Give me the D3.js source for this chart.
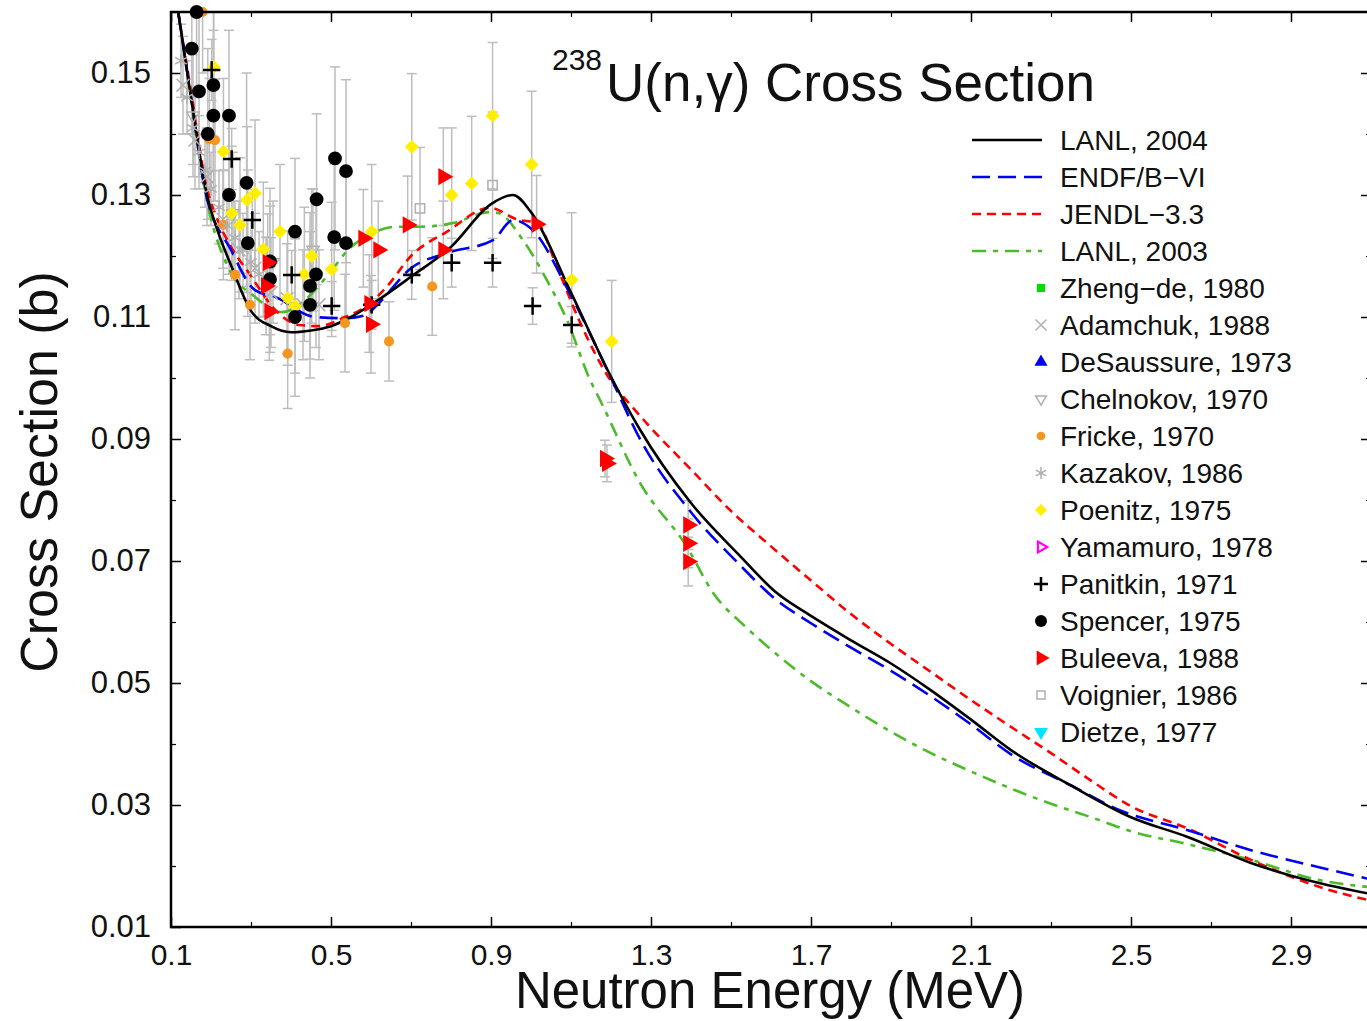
<!DOCTYPE html>
<html>
<head>
<meta charset="utf-8">
<script src="https://cdn.jsdelivr.net/npm/d3@7"></script>
<style>
body { margin: 0; background: #fff; }
svg { display: block; font-family: "Liberation Sans", Arial, Helvetica, sans-serif; }
</style>
</head>
<body>
<script>
var width = 1367, height = 1021;
var plot = {left: 171, top: 12, right: 1371, bottom: 927};

// ticks
var xMajor = [0.1, 0.5, 0.9, 1.3, 1.7, 2.1, 2.5, 2.9];
var xMinor = [0.3, 0.7, 1.1, 1.5, 1.9, 2.3, 2.7, 3.1];
var yMajor = [0.01, 0.03, 0.05, 0.07, 0.09, 0.11, 0.13, 0.15];
var yMinor = [0.02, 0.04, 0.06, 0.08, 0.10, 0.12, 0.14, 0.16];

// evaluations [E (MeV), sigma (b)]
var lanl2004 = [[0.118,0.160],[0.15,0.146],[0.19,0.130],[0.22,0.1235],[0.25,0.1185],[0.30,0.1110],[0.35,0.1085],
  [0.40,0.1075],[0.45,0.1078],[0.50,0.1085],[0.55,0.1100],[0.60,0.1120],[0.70,0.1166],[0.80,0.1215],[0.90,0.1285],
  [0.955,0.1300],[1.00,0.1272],[1.10,0.1140],[1.20,0.1002],[1.27,0.0918],[1.40,0.0795],[1.52,0.0710],[1.61,0.0650],
  [1.70,0.0610],[1.80,0.0570],[1.90,0.0532],[2.00,0.0488],[2.10,0.0440],[2.20,0.0390],[2.35,0.0332],[2.50,0.0280],
  [2.64,0.0248],[2.80,0.0205],[2.97,0.0172],[3.10,0.0154]];
var endfb6 = [[0.118,0.160],[0.15,0.146],[0.185,0.1308],[0.25,0.1210],[0.31,0.1144],[0.36,0.1133],[0.46,0.1100],
  [0.535,0.1098],[0.585,0.1103],[0.62,0.1123],[0.70,0.1180],[0.79,0.1205],[0.905,0.1226],[0.955,0.1259],[1.00,0.1245],
  [1.10,0.1135],[1.20,0.1000],[1.27,0.0903],[1.40,0.0780],[1.52,0.0695],[1.61,0.0638],[1.70,0.0598],[1.80,0.0558],
  [1.90,0.0520],[2.00,0.0478],[2.10,0.0432],[2.20,0.0383],[2.35,0.0332],[2.47,0.0292],[2.64,0.0259],[2.80,0.0226],
  [2.97,0.0198],[3.10,0.0178]];
var jendl33 = [[0.118,0.160],[0.15,0.147],[0.19,0.131],[0.21,0.127],[0.25,0.1215],[0.295,0.1172],[0.36,0.1112],
  [0.42,0.1087],[0.47,0.1085],[0.535,0.1100],[0.585,0.1116],[0.64,0.1150],[0.70,0.1200],[0.79,0.1240],[0.8975,0.1279],
  [0.965,0.1260],[1.015,0.1254],[1.065,0.1182],[1.12,0.1095],[1.20,0.0995],[1.25,0.0955],[1.30,0.0918],[1.40,0.0850],
  [1.50,0.0782],[1.60,0.0724],[1.70,0.0668],[1.80,0.0613],[1.90,0.0564],[2.00,0.0518],[2.10,0.0472],[2.20,0.0428],
  [2.30,0.0385],[2.40,0.0340],[2.50,0.0298],[2.64,0.0262],[2.80,0.0210],[2.97,0.0166],[3.10,0.0143]];
var lanl2003 = [[0.118,0.160],[0.15,0.1455],[0.19,0.129],[0.2425,0.1182],[0.31,0.1133],[0.3775,0.1108],[0.435,0.1128],
  [0.5025,0.1177],[0.5425,0.1210],[0.585,0.1231],[0.6675,0.1248],[0.7225,0.1248],[0.805,0.1254],[0.8975,0.1272],
  [0.92,0.1270],[0.98,0.1226],[1.04,0.1160],[1.09,0.1095],[1.1475,0.0997],[1.1725,0.0964],[1.2725,0.0828],
  [1.39,0.0723],[1.455,0.0648],[1.54,0.0590],[1.60,0.0555],[1.70,0.0503],[1.80,0.0460],[1.90,0.0420],[2.00,0.0385],
  [2.10,0.0355],[2.20,0.0327],[2.30,0.0302],[2.40,0.0280],[2.50,0.0257],[2.64,0.0236],[2.80,0.0210],[2.97,0.0177],
  [3.10,0.0165]];

// experiments [E, sigma, error]
var adamchuk = [[0.13,0.148,0.008],[0.16,0.139,0.008],[0.19,0.133,0.008],[0.23,0.126,0.008],[0.27,0.121,0.008],
  [0.31,0.118,0.009],[0.35,0.114,0.009],[0.39,0.113,0.009],[0.43,0.112,0.009],[0.47,0.112,0.009]];
var chelnokov = [[0.155,0.143,0.010],[0.255,0.127,0.010],[0.355,0.119,0.010],[0.455,0.121,0.010]];
var fricke = [[0.179,0.160,0.010],[0.196,0.1391,0.010],[0.21,0.139,0.010],[0.2308,0.1251,0.009],[0.26,0.1169,0.009],
  [0.2975,0.112,0.009],[0.3917,0.104,0.009],[0.535,0.109,0.008],[0.645,0.106,0.0065],[0.753,0.115,0.008]];
var kazakov = [[0.125,0.152,0.006],[0.14,0.146,0.006],[0.155,0.141,0.006],[0.17,0.137,0.006],[0.185,0.134,0.006],
  [0.20,0.131,0.006],[0.22,0.128,0.006],[0.24,0.125,0.006],[0.26,0.123,0.006],[0.28,0.121,0.006],[0.30,0.119,0.007],
  [0.32,0.117,0.007],[0.34,0.116,0.007]];
var poenitz = [[0.207,0.151,0.012],[0.231,0.1371,0.012],[0.29,0.1292,0.012],[0.31,0.1303,0.012],[0.2517,0.127,0.011],
  [0.2725,0.1251,0.011],[0.3725,0.124,0.011],[0.3308,0.1211,0.011],[0.4517,0.120,0.011],[0.5017,0.1178,0.011],
  [0.4333,0.117,0.011],[0.3917,0.1131,0.011],[0.41,0.1118,0.011],[0.6017,0.124,0.011],[0.702,0.1379,0.012],
  [0.8017,0.130,0.011],[0.8517,0.1319,0.011],[0.904,0.143,0.012],[1.0017,0.135,0.012],[1.1017,0.1161,0.011],
  [1.2017,0.106,0.010]];
var panitkin = [[0.2017,0.1505,0.005],[0.2517,0.1359,0.005],[0.3033,0.1259,0.005],[0.4017,0.1169,0.004],
  [0.5017,0.1118,0.004],[0.6017,0.112,0.004],[0.702,0.1169,0.004],[0.8017,0.1189,0.004],[0.904,0.1189,0.004],
  [1.004,0.1118,0.003],[1.1017,0.1087,0.003]];
var spencer = [[0.164,0.160,0.014],[0.152,0.154,0.014],[0.170,0.147,0.014],[0.206,0.148,0.014],[0.206,0.143,0.014],
  [0.245,0.143,0.014],[0.192,0.140,0.014],[0.510,0.136,0.015],[0.5375,0.1339,0.015],[0.289,0.132,0.018],
  [0.245,0.130,0.013],[0.464,0.1293,0.014],[0.292,0.1221,0.012],[0.41,0.124,0.012],[0.508,0.1231,0.012],
  [0.5375,0.1221,0.012],[0.3475,0.1162,0.012],[0.3475,0.1191,0.012],[0.4625,0.117,0.012],[0.4475,0.1151,0.012],
  [0.4475,0.112,0.012],[0.41,0.110,0.013]];
var buleeva = [[0.3417,0.1189,0.008],[0.3375,0.1151,0.008],[0.3458,0.1109,0.008],[0.5808,0.1229,0.008],
  [0.6183,0.121,0.008],[0.5958,0.1122,0.008],[0.60,0.1088,0.008],[0.6917,0.1251,0.008],[0.7808,0.133,0.008],
  [0.7808,0.121,0.008],[1.014,0.1252,0.008],[1.185,0.0868,0.003],[1.19,0.086,0.003],[1.393,0.0759,0.004],
  [1.393,0.0729,0.004],[1.393,0.0699,0.004]];
var voignier = [[0.7225,0.1278,0.010],[0.904,0.1316,0.012]];

var curveNames = ["LANL, 2004", "ENDF/B\u2212VI", "JENDL\u22123.3", "LANL, 2003"];
var expNames = ["Zheng\u2212de, 1980", "Adamchuk, 1988", "DeSaussure, 1973", "Chelnokov, 1970", "Fricke, 1970",
  "Kazakov, 1986", "Poenitz, 1975", "Yamamuro, 1978", "Panitkin, 1971", "Spencer, 1975", "Buleeva, 1988",
  "Voignier, 1986", "Dietze, 1977"];

var svg = d3.select("body").append("svg")
    .attr("width", width)
    .attr("height", height);

var x = d3.scaleLinear().domain([0.1, 3.1]).range([plot.left, plot.right]);
var y = d3.scaleLinear().domain([0.01, 0.16]).range([plot.bottom, plot.top]);

svg.append("defs").append("clipPath").attr("id", "clip")
  .append("rect")
    .attr("x", plot.left).attr("y", plot.top)
    .attr("width", plot.right - plot.left).attr("height", plot.bottom - plot.top);

// axes with inward ticks on all four sides
function addAxis(axis, tx, ty, major, minor, fmt) {
    var g = svg.append("g").attr("transform", "translate(" + tx + "," + ty + ")")
        .call(axis.tickValues(major).tickSize(-10).tickFormat(fmt));
    g.select(".domain").remove();
    g.selectAll(".tick line").attr("stroke", "#000").attr("stroke-width", 1.5);
    var g2 = svg.append("g").attr("transform", "translate(" + tx + "," + ty + ")")
        .call(axis.tickValues(minor).tickSize(-5).tickFormat(""));
    g2.select(".domain").remove();
    g2.selectAll(".tick line").attr("stroke", "#000").attr("stroke-width", 1.2);
    return g;
}
var gx = addAxis(d3.axisBottom(x).tickPadding(17), 0, plot.bottom, xMajor, xMinor, d3.format(".1f"));
addAxis(d3.axisTop(x), 0, plot.top, xMajor, xMinor, "");
var gy = addAxis(d3.axisLeft(y).tickPadding(20), plot.left, 0, yMajor, yMinor, d3.format(".2f"));
addAxis(d3.axisRight(y), plot.right, 0, yMajor, yMinor, "");
gx.selectAll("text").attr("font-size", 30).attr("fill", "#111").attr("font-family", null);
gy.selectAll("text").attr("font-size", 31).attr("fill", "#111").attr("font-family", null);

// error bars (all experiments, grey)
var expSets = [adamchuk, chelnokov, fricke, kazakov, poenitz, panitkin, spencer, buleeva, voignier];
var allPts = [].concat.apply([], expSets);
var eb = svg.append("g").attr("stroke", "#bdbdbd").attr("stroke-width", 1.5).attr("fill", "none");
allPts.forEach(function(d) {
    var x0 = x(d[0]), yt = Math.max(y(d[1] + d[2]), plot.top), yb = y(d[1] - d[2]);
    eb.append("line").attr("x1", x0).attr("x2", x0).attr("y1", yt).attr("y2", yb);
    eb.append("line").attr("x1", x0 - 5).attr("x2", x0 + 5).attr("y1", yt).attr("y2", yt);
    eb.append("line").attr("x1", x0 - 5).attr("x2", x0 + 5).attr("y1", yb).attr("y2", yb);
});

// evaluation curves
var curveStyles = [
    {data: lanl2004, color: "#000000", dash: null},
    {data: endfb6, color: "#0000ee", dash: "18,8"},
    {data: jendl33, color: "#ff0000", dash: "9,6"},
    {data: lanl2003, color: "#4cbb2a", dash: "14,7,5,7"}
];
var line = d3.line()
    .x(function(d) { return x(d[0]); })
    .y(function(d) { return y(d[1]); })
    .curve(d3.curveMonotoneX);
var curves = svg.append("g").attr("clip-path", "url(#clip)");
curveStyles.slice().reverse().forEach(function(c) {
    curves.append("path")
        .attr("d", line(c.data))
        .attr("fill", "none")
        .attr("stroke", c.color)
        .attr("stroke-width", 2.6)
        .attr("stroke-dasharray", c.dash);
});

// marker styles
var marks = {
    zheng:     {type: d3.symbolSquare, size: 90, fill: "#00dd00", stroke: "none", rot: 0},
    adamchuk:  {type: d3.symbolTimes, size: 110, fill: "none", stroke: "#b0b0b0", rot: 0},
    desaussure:{type: d3.symbolTriangle, size: 100, fill: "#0000ee", stroke: "none", rot: 0},
    chelnokov: {type: d3.symbolTriangle2, size: 110, fill: "none", stroke: "#b0b0b0", rot: 180},
    fricke:    {type: d3.symbolCircle, size: 80, fill: "#f7961e", stroke: "none", rot: 0},
    kazakov:   {type: d3.symbolAsterisk, size: 130, fill: "none", stroke: "#b0b0b0", rot: 0},
    poenitz:   {type: d3.symbolSquare, size: 95, fill: "#ffee00", stroke: "none", rot: 45},
    yamamuro:  {type: d3.symbolTriangle2, size: 110, fill: "none", stroke: "#ff00ff", rot: 90},
    panitkin:  {type: d3.symbolPlus, size: 100, fill: "none", stroke: "#000", rot: 0},
    spencer:   {type: d3.symbolCircle, size: 150, fill: "#000", stroke: "none", rot: 0},
    buleeva:   {type: d3.symbolTriangle, size: 130, fill: "#ff0000", stroke: "none", rot: 90},
    voignier:  {type: d3.symbolSquare2, size: 110, fill: "none", stroke: "#b0b0b0", rot: 0},
    dietze:    {type: d3.symbolTriangle, size: 110, fill: "#00e5ff", stroke: "none", rot: 180}
};

function drawMarks(data, m) {
    svg.append("g").selectAll("path")
        .data(data)
        .enter().append("path")
        .attr("transform", function(d) {
            return "translate(" + x(d[0]) + "," + y(d[1]) + ") rotate(" + m.rot + ")";
        })
        .attr("d", d3.symbol().type(m.type).size(m.size))
        .attr("fill", m.fill)
        .attr("stroke", m.stroke)
        .attr("stroke-width", m.stroke === "#000" ? 2.5 : 1.5);
}
drawMarks(adamchuk, marks.adamchuk);
drawMarks(chelnokov, marks.chelnokov);
drawMarks(fricke, marks.fricke);
drawMarks(kazakov, marks.kazakov);
drawMarks(poenitz, marks.poenitz);
drawMarks(panitkin, marks.panitkin);
drawMarks(spencer, marks.spencer);
drawMarks(buleeva, marks.buleeva);
drawMarks(voignier, marks.voignier);

// frame
svg.append("rect")
    .attr("x", plot.left).attr("y", plot.top)
    .attr("width", plot.right - plot.left).attr("height", plot.bottom - plot.top)
    .attr("fill", "none").attr("stroke", "#000").attr("stroke-width", 2.5);

// title
svg.append("text").attr("x", 552).attr("y", 70).attr("font-size", 30).attr("fill", "#111").text("238");
svg.append("text").attr("x", 606).attr("y", 101).attr("font-size", 53).attr("fill", "#111").text("U(n,\u03b3) Cross Section");

// axis titles
svg.append("text")
    .attr("transform", "translate(57,472) rotate(-90)")
    .attr("text-anchor", "middle").attr("font-size", 52).attr("fill", "#111")
    .text("Cross Section (b)");
svg.append("text")
    .attr("x", 770).attr("y", 1008)
    .attr("text-anchor", "middle").attr("font-size", 51).attr("fill", "#111")
    .text("Neutron Energy (MeV)");

// legend
var legend = svg.append("g");
var rowY = function(i) { return 140 + 37 * i; };
curveStyles.forEach(function(c, i) {
    legend.append("line")
        .attr("x1", 972).attr("x2", 1042).attr("y1", rowY(i)).attr("y2", rowY(i))
        .attr("stroke", c.color).attr("stroke-width", 2.6)
        .attr("stroke-dasharray", c.dash);
    legend.append("text").attr("x", 1060).attr("y", rowY(i)).attr("dy", "0.36em")
        .attr("font-size", 28).attr("fill", "#111").text(curveNames[i]);
});
var legendMarks = [marks.zheng, marks.adamchuk, marks.desaussure, marks.chelnokov, marks.fricke, marks.kazakov,
    marks.poenitz, marks.yamamuro, marks.panitkin, marks.spencer, marks.buleeva, marks.voignier, marks.dietze];
legendMarks.forEach(function(m, j) {
    var i = j + 4;
    var s = m.type === d3.symbolPlus ? 0.65 : 0.75;
    legend.append("path")
        .attr("transform", "translate(1041," + rowY(i) + ") rotate(" + m.rot + ")")
        .attr("d", d3.symbol().type(m.type).size(m.size * s))
        .attr("fill", m.fill)
        .attr("stroke", m.stroke)
        .attr("stroke-width", m.stroke === "#000" ? 2.5 : (m.stroke === "#ff00ff" ? 2.2 : 1.5));
    legend.append("text").attr("x", 1060).attr("y", rowY(i)).attr("dy", "0.36em")
        .attr("font-size", 28).attr("fill", "#111").text(expNames[j]);
});
</script>
</body>
</html>
